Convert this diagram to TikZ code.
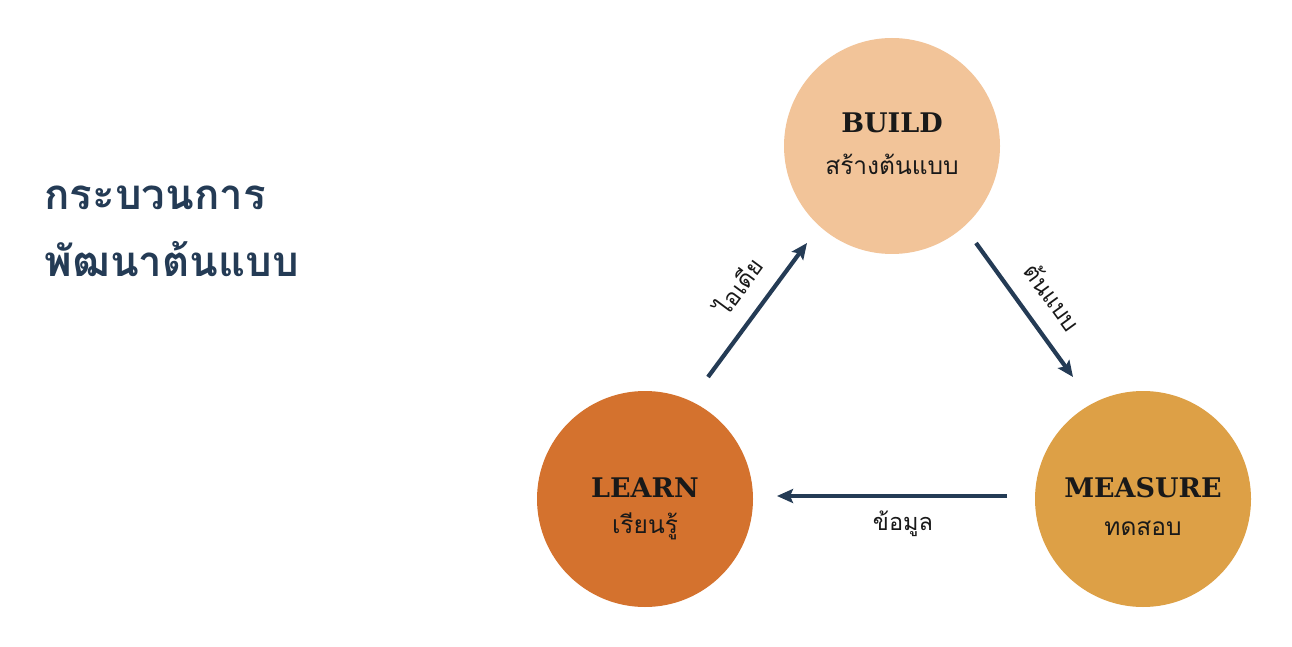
\documentclass[tikz,border=0pt]{standalone}
\usepackage{fontspec}
\newfontfamily\thai[Script=Thai]{Loma}
\newfontfamily\slab{DejaVu Serif}
\usetikzlibrary{arrows.meta}
\definecolor{navy}{HTML}{243B55}
\definecolor{cbuild}{HTML}{F2C499}
\definecolor{clearn}{HTML}{D4722E}
\definecolor{cmeas}{HTML}{DDA046}
\tikzset{
  stage/.style={circle, minimum size=216pt, inner sep=0pt},
  eng/.style={font=\slab\bfseries\fontsize{27}{31}\selectfont, text=black!90, anchor=base},
  thl/.style={font=\thai\fontsize{24.5}{29}\selectfont, text=black!90, anchor=base},
  lbl/.style={font=\thai\fontsize{23.5}{28}\selectfont, text=black!90},
  ttl/.style={font=\thai\bfseries\fontsize{42}{48}\selectfont, text=navy, anchor=base west},
  flow/.style={draw=navy, line width=4.2pt, -{Stealth[length=16pt,width=14pt,inset=3pt]}},
}
\begin{document}
\begin{tikzpicture}[x=1pt,y=1pt]
\useasboundingbox[fill=white] (0,0) rectangle (1292,646);
\node[ttl] (t1) at (41,436) {กระบวนการ};
\node[ttl] (t2) at (41,369) {พัฒนาต้นแบบ};
\node[stage, fill=cbuild] (B) at (892,500) {};
\node[stage, fill=clearn] (L) at (645,147) {};
\node[stage, fill=cmeas] (M) at (1143,147) {};
\node[eng] (bE) at (892,513) {BUILD};
\node[thl] (bT) at (892,471) {สร้างต้นแบบ};
\node[eng] (lE) at (645,149) {LEARN};
\node[thl] (lT) at (645,113) {เรียนรู้};
\node[eng] (mE) at (1143,149) {MEASURE};
\node[thl] (mT) at (1143,111) {ทดสอบ};
\coordinate (a1s) at (708,269);
\coordinate (a1e) at (807,403);
\coordinate (a2s) at (976,403);
\coordinate (a2e) at (1073,269);
\coordinate (a3s) at (1007,150);
\coordinate (a3e) at (777,150);
\draw[flow] (a1s) -- (a1e);
\draw[flow] (a2s) -- (a2e);
\draw[flow] (a3s) -- (a3e);
\node[lbl, rotate=53.5] (l1) at (738,360) {ไอเดีย};
\node[lbl, rotate=-54] (l2) at (1053,349) {ต้นแบบ};
\node[lbl, anchor=base] (l3) at (903,116) {ข้อมูล};
\end{tikzpicture}
\end{document}
